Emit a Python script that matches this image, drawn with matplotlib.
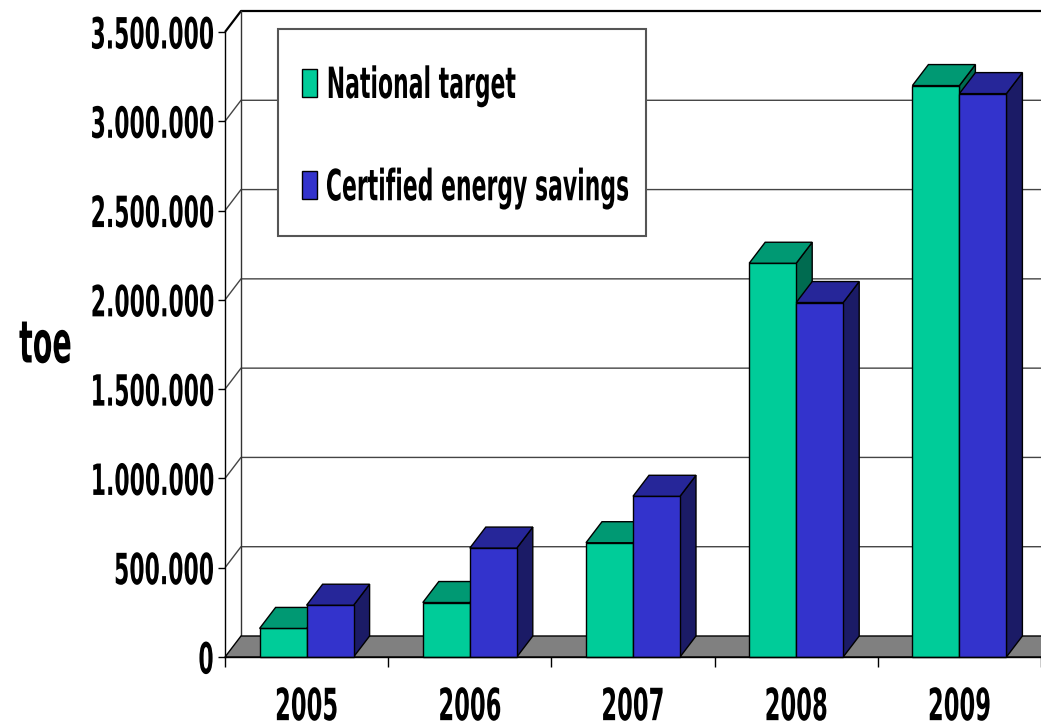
import numpy as np
import matplotlib
matplotlib.use('Agg')
import matplotlib.pyplot as plt
from matplotlib.patches import Polygon, Rectangle, Patch
from matplotlib.patheffects import AbstractPathEffect
from matplotlib.transforms import Affine2D

# Data (toe)
years = ['2005', '2006', '2007', '2008', '2009']
national_target = [160000, 305000, 640000, 2205000, 3200000]
certified_savings = [290000, 610000, 900000, 1985000, 3155000]
series_names = ['National target', 'Certified energy savings']
y_ticks = [0, 500000, 1000000, 1500000, 2000000, 2500000, 3000000, 3500000]
y_tick_labels = ['0', '500.000', '1.000.000', '1.500.000', '2.000.000',
                 '2.500.000', '3.000.000', '3.500.000']

# face colours: front, top, side
green = ('#00CC99', '#009973', '#006B50')
blue = ('#3333CC', '#262699', '#1B1B66')

W, H = 1041, 724
plt.rcParams['font.family'] = ['DejaVu Sans']
plt.rcParams['font.weight'] = 'bold'


class Squeeze(AbstractPathEffect):
    # narrow the glyphs horizontally (condensed look), keeping one point of the ink box fixed
    def __init__(self, sx=0.51, anchor=0.0):
        super().__init__()
        self.sx = sx
        self.anchor = anchor

    def draw_path(self, renderer, gc, tpath, affine, rgbFace=None):
        ext = tpath.get_extents(affine)
        xa = ext.x0 + self.anchor * ext.width
        tr = affine + Affine2D().translate(-xa, 0).scale(self.sx, 1).translate(xa, 0)
        renderer.draw_path(gc, tpath, tr, rgbFace)


fig = plt.figure(figsize=(W / 100, H / 100), dpi=100)
ax = fig.add_axes([225 / W, 67 / H, 816 / W, 625 / H])
ax.set_xlim(0, len(years))
ax.set_ylim(0, y_ticks[-1])

# depth of the pseudo-3D box in data units
DX = 16 / 163.2
DY = 21 * y_ticks[-1] / 625
XEND = len(years) + 1

# back wall gridlines + diagonals
for v in y_ticks[1:]:
    lw = 1.6 if v == y_ticks[-1] else 1.0
    col = 'black' if v == y_ticks[-1] else '#444444'
    ax.plot([0, DX, XEND], [v, v + DY, v + DY], color=col, lw=lw,
            clip_on=False, zorder=1, solid_capstyle='butt')
ax.plot([DX, DX], [DY, y_ticks[-1] + DY], color='#333333', lw=1, clip_on=False, zorder=1)

# floor
ax.add_patch(Polygon([(0, 0), (XEND, 0), (XEND + DX, DY), (DX, DY)],
                     closed=True, fc='#808080', ec='black', lw=1, clip_on=False, zorder=2))


def draw_bar(xl, w, v, cols):
    xr = xl + w
    side = [(xr, 0), (xr + DX, DY), (xr + DX, v + DY), (xr, v)]
    front = [(xl, 0), (xr, 0), (xr, v), (xl, v)]
    top = [(xl, v), (xr, v), (xr + DX, v + DY), (xl + DX, v + DY)]
    for pts, c in ((side, cols[2]), (front, cols[0]), (top, cols[1])):
        ax.add_patch(Polygon(pts, closed=True, fc=c, ec='black', lw=1,
                             clip_on=False, zorder=3))


bw = 0.288
for i in range(len(years)):
    draw_bar(i + 0.5 - bw, bw, national_target[i], green)
    draw_bar(i + 0.5, bw, certified_savings[i], blue)

# axes styling
for s in ('top', 'right'):
    ax.spines[s].set_visible(False)
ax.spines['left'].set_linewidth(1)
ax.spines['bottom'].set_linewidth(1)
ax.spines['bottom'].set_zorder(4)

ax.set_yticks(y_ticks, y_tick_labels)
ax.tick_params(axis='y', direction='out', length=5, width=1, pad=2.5, labelsize=31)
ax.set_xticks(range(len(years) + 1))
ax.set_xticklabels([])
ax.set_xticks(np.arange(len(years)) + 0.5, minor=True)
ax.set_xticklabels(years, minor=True)
ax.tick_params(axis='x', which='major', direction='out', length=7.2, width=1)
ax.tick_params(axis='x', which='minor', length=0, pad=21, labelsize=32)

ax.set_ylabel('toe', rotation=0, fontsize=42, fontweight='bold', ha='center', va='center')
ax.yaxis.set_label_coords((46 - 225) / 816, (724 - 346 - 67) / 625)

# legend box and entries
ax.add_patch(Rectangle((278 / W, 1 - 236 / H), 368 / W, 207 / H, transform=fig.transFigure,
                       fc='white', ec='#555555', lw=1.5, clip_on=False, zorder=5))
handles = [Patch(fc=green[0], ec='black', lw=1), Patch(fc=blue[0], ec='black', lw=1)]
leg = ax.legend(handles, series_names, loc='upper left',
                bbox_to_anchor=(302 / W, 1 - 65 / H), bbox_transform=fig.transFigure,
                frameon=False, fontsize=31, handlelength=0.35, handleheight=0.63,
                handletextpad=0.18, labelspacing=1.4, borderpad=0, borderaxespad=0)
leg.set_zorder(6)

for t in leg.get_texts():
    t.set_path_effects([Squeeze(0.51, 0.0)])
for t in ax.get_yticklabels():
    t.set_path_effects([Squeeze(0.51, 1.0)])
for t in ax.get_xticklabels(minor=True):
    t.set_path_effects([Squeeze(0.51, 0.5)])
ax.yaxis.label.set_path_effects([Squeeze(0.49, 0.5)])

fig.savefig('out.png', dpi=100)
